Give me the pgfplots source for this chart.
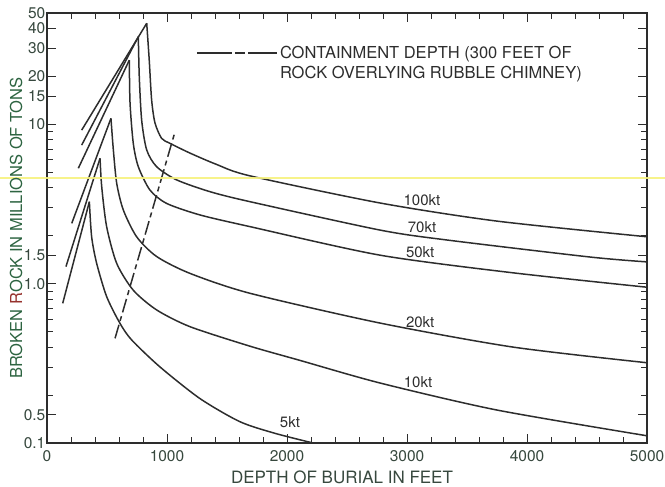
\documentclass[border=0pt]{standalone}
\usepackage{fontspec}
\setmainfont{TeX Gyre Heros}
\usepackage{pgfplots}
\pgfplotsset{compat=1.18}
\definecolor{ink}{RGB}{45,45,45}
\definecolor{lab}{RGB}{55,72,62}
\definecolor{ylab}{RGB}{45,100,65}
\definecolor{rlab}{RGB}{150,50,45}
\definecolor{hl}{RGB}{246,242,125}
\begin{document}
\begin{tikzpicture}
\useasboundingbox (-47pt,-44pt) rectangle (618pt,443pt);
\begin{axis}[
  at={(0,0)}, anchor=south west,
  width=600pt, height=430pt, scale only axis,
  xmin=0, xmax=5000, ymin=0.1, ymax=50, ymode=log,
  xtick={0,1000,2000,3000,4000,5000},
  xticklabels={0,1000,2000,3000,4000,5000},
  minor xtick={200,400,...,4800},
  ytick={0.1,0.15,1,1.5,10,15,20,30,40,50},
  yticklabels={0.1,0.5,1.0,1.5,10,15,20,30,40,50},
  minor ytick={0.2,0.3,0.4,0.5,0.6,0.7,0.8,0.9,2,3,4,5,6,7,8,9},
  tick align=inside,
  major tick length=9pt, minor tick length=6pt,
  every tick/.style={ink, line width=0.9pt},
  axis line style={ink, line width=1.2pt},
  tick label style={lab, font=\fontsize{15.5}{15.5}\selectfont},
  yticklabel style={inner sep=0.5pt, xshift=-1pt},
  xticklabel style={inner sep=0pt, yshift=-7pt},
  xlabel={DEPTH OF BURIAL IN FEET},
  ylabel={BROKEN \textcolor{rlab}{R}OCK IN MILLIONS OF TONS},
  every axis x label/.style={at={(rel axis cs:0.5,0)}, anchor=center, yshift=-34pt, xshift=-5pt, lab, font=\fontsize{17}{17}\selectfont},
  every axis y label/.style={at={([xshift=-31pt]rel axis cs:0,0.5)}, rotate=90, anchor=center, ylab, font=\fontsize{16.5}{16.5}\selectfont},
  clip=false,
  curve/.style={ink, line width=1.5pt, no markers},
  desc/.style={ink, line width=1.5pt, no markers, smooth, tension=0.45},
]
% 100 kt
\addplot[curve] coordinates {(289,9.2) (831,43.1)};
\addplot[desc] coordinates {(831,43.1) (852,25.3) (872,14.2) (900,10.2) (955,8.17) (1025,7.6) (1192,6.6) (1414,5.6) (1692,4.75) (2775,3.21) (3750,2.47) (5000,1.97)};
% 70 kt
\addplot[curve] coordinates {(289,7.41) (761,35.5)};
\addplot[desc] coordinates {(761,35.5) (769,19.9) (789,10.6) (831,6.9) (914,5.42) (1081,4.48) (1358,3.78) (1692,3.27) (2775,2.17) (3333,1.88) (4525,1.47) (5000,1.37)};
% 50 kt
\addplot[curve] coordinates {(261,5.3) (686,25.3)};
\addplot[desc] coordinates {(686,25.3) (692,13.6) (719,7.6) (761,5.42) (858,3.87) (997,3.19) (1275,2.70) (1692,2.28) (2775,1.51) (3883,1.17) (5000,0.95)};
% 20 kt
\addplot[curve] coordinates {(206,2.39) (533,10.9)};
\addplot[desc] coordinates {(533,10.9) (553,6.9) (581,4.26) (636,2.90) (747,1.97) (914,1.48) (1192,1.16) (1692,0.87) (2775,0.566) (3883,0.40) (5000,0.319)};
% 10 kt
\addplot[curve] coordinates {(158,1.28) (442,6.12)};
\addplot[desc] coordinates {(442,6.12) (456,4.06) (497,2.28) (581,1.34) (719,0.91) (914,0.684) (1192,0.537) (1692,0.405) (2108,0.33) (2775,0.238) (3750,0.161) (5000,0.111)};
% 5 kt
\addplot[curve] coordinates {(131,0.753) (353,3.27)};
\addplot[desc] coordinates {(353,3.27) (372,1.97) (414,1.34) (497,0.83) (608,0.564) (706,0.443) (942,0.30) (1275,0.19) (1608,0.136) (1900,0.115) (2217,0.1)};
% containment depth
\addplot[ink, line width=1.5pt, dash pattern=on 14pt off 4pt on 5pt off 4pt] coordinates {(567,0.454) (1067,9.0)};
% legend
\draw[ink, line width=1.5pt] (rel axis cs:0.25,0.907) -- (rel axis cs:0.308,0.907);
\draw[ink, line width=1.5pt] (rel axis cs:0.313,0.907) -- (rel axis cs:0.33,0.907);
\draw[ink, line width=1.5pt] (rel axis cs:0.335,0.907) -- (rel axis cs:0.383,0.907);
\node[anchor=west, inner sep=0pt, ink, font=\fontsize{16.5}{16.5}\selectfont] at (rel axis cs:0.388,0.905) {CONTAINMENT DEPTH (300 FEET OF};
\node[anchor=west, inner sep=0pt, ink, font=\fontsize{16.5}{16.5}\selectfont] at (rel axis cs:0.388,0.858) {ROCK OVERLYING RUBBLE CHIMNEY)};
% curve labels
\begin{scope}[every node/.style={ink, font=\fontsize{15}{15}\selectfont, inner sep=0pt}]
\node at (axis cs:3125,3.35) {100kt};
\node at (axis cs:3125,2.27) {70kt};
\node at (axis cs:3110,1.58) {50kt};
\node at (axis cs:3110,0.574) {20kt};
\node at (axis cs:3092,0.241) {10kt};
\node at (axis cs:2025,0.1355) {5kt};
\end{scope}
\draw[hl, line width=2pt, opacity=0.9] (axis cs:-392,4.6) -- (axis cs:5150,4.6);
\end{axis}
\end{tikzpicture}
\end{document}
